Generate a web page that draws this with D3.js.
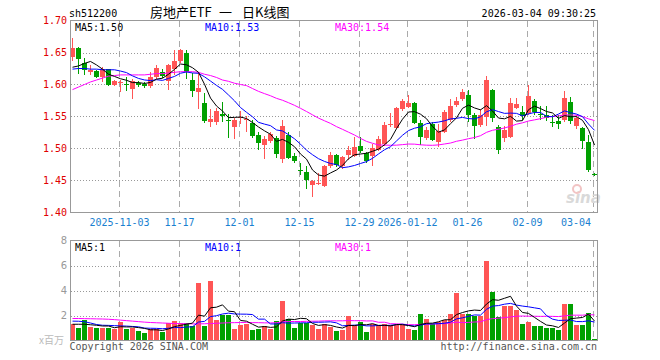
<!DOCTYPE html>
<html><head><meta charset="utf-8">
<script src="https://cdn.jsdelivr.net/npm/d3@7"></script>
<style>body{margin:0;background:#fff}svg{display:block}</style>
</head><body><svg id="c" width="660" height="360"></svg>
<script>
const dates = ["2025-10-22","2025-10-23","2025-10-24","2025-10-27","2025-10-28","2025-10-29","2025-10-30","2025-10-31",
"2025-11-03","2025-11-04","2025-11-05","2025-11-06","2025-11-07","2025-11-10","2025-11-11","2025-11-12","2025-11-13","2025-11-14",
"2025-11-17","2025-11-18","2025-11-19","2025-11-20","2025-11-21","2025-11-24","2025-11-25","2025-11-26","2025-11-27","2025-11-28",
"2025-12-01","2025-12-02","2025-12-03","2025-12-04","2025-12-05","2025-12-08","2025-12-09","2025-12-10","2025-12-11","2025-12-12",
"2025-12-15","2025-12-16","2025-12-17","2025-12-18","2025-12-19","2025-12-22","2025-12-23","2025-12-24","2025-12-25","2025-12-26",
"2025-12-29","2025-12-30","2025-12-31","2026-01-05","2026-01-06","2026-01-07","2026-01-08","2026-01-09",
"2026-01-12","2026-01-13","2026-01-14","2026-01-15","2026-01-16","2026-01-19","2026-01-20","2026-01-21","2026-01-22","2026-01-23",
"2026-01-26","2026-01-27","2026-01-28","2026-01-29","2026-01-30","2026-02-02","2026-02-03","2026-02-04","2026-02-05","2026-02-06",
"2026-02-09","2026-02-10","2026-02-11","2026-02-12","2026-02-13","2026-02-24","2026-02-25","2026-02-26","2026-02-27",
"2026-03-02","2026-03-03","2026-03-04"];
const open = [1.643,1.657,1.634,1.619,1.621,1.611,1.624,1.600,1.602,1.601,
1.593,1.602,1.601,1.597,1.612,1.620,1.606,1.624,1.636,1.650,
1.607,1.588,1.571,1.541,1.541,1.554,1.544,1.534,1.548,1.545,
1.540,1.521,1.506,1.511,1.517,1.483,1.521,1.488,1.466,1.463,
1.443,1.445,1.442,1.472,1.490,1.473,1.490,1.489,1.504,1.493,
1.488,1.497,1.507,1.536,1.532,1.561,1.565,1.571,1.540,1.516,
1.539,1.510,1.526,1.544,1.568,1.577,1.583,1.552,1.536,1.550,
1.592,1.534,1.517,1.518,1.563,1.557,1.556,1.575,1.554,1.553,
1.542,1.543,1.544,1.573,1.535,1.532,1.510,1.460];
const close = [1.657,1.640,1.622,1.622,1.612,1.624,1.600,1.605,1.604,1.600,
1.606,1.600,1.598,1.612,1.626,1.613,1.631,1.636,1.654,1.620,
1.590,1.595,1.543,1.546,1.558,1.551,1.543,1.545,1.549,1.546,
1.520,1.508,1.515,1.522,1.491,1.535,1.485,1.481,1.465,1.451,
1.450,1.446,1.472,1.490,1.474,1.486,1.498,1.503,1.496,1.480,
1.501,1.515,1.537,1.538,1.564,1.575,1.571,1.540,1.518,1.529,
1.514,1.527,1.557,1.567,1.574,1.589,1.552,1.535,1.552,1.607,
1.547,1.497,1.529,1.571,1.570,1.551,1.582,1.557,1.552,1.547,
1.540,1.539,1.579,1.543,1.548,1.511,1.466,1.459];
const high = [1.672,1.659,1.641,1.630,1.622,1.627,1.625,1.607,1.607,1.611,
1.609,1.606,1.604,1.619,1.631,1.624,1.632,1.654,1.655,1.654,
1.618,1.618,1.586,1.562,1.564,1.573,1.554,1.547,1.559,1.551,
1.545,1.526,1.520,1.526,1.519,1.545,1.526,1.493,1.477,1.472,
1.451,1.461,1.475,1.494,1.492,1.489,1.504,1.518,1.518,1.495,
1.507,1.520,1.542,1.555,1.565,1.577,1.583,1.573,1.545,1.534,
1.541,1.538,1.560,1.578,1.581,1.593,1.591,1.555,1.562,1.614,
1.593,1.536,1.535,1.579,1.579,1.567,1.600,1.578,1.566,1.566,
1.552,1.552,1.590,1.580,1.552,1.533,1.521,1.462];
const low = [1.636,1.617,1.615,1.615,1.610,1.604,1.598,1.598,1.589,1.590,
1.578,1.596,1.594,1.594,1.608,1.610,1.592,1.615,1.634,1.609,
1.581,1.562,1.540,1.533,1.537,1.542,1.516,1.515,1.539,1.526,
1.516,1.498,1.484,1.508,1.485,1.478,1.483,1.477,1.458,1.437,
1.424,1.443,1.440,1.469,1.471,1.468,1.482,1.486,1.493,1.477,
1.473,1.496,1.504,1.534,1.530,1.558,1.563,1.538,1.505,1.514,
1.511,1.502,1.524,1.541,1.565,1.575,1.542,1.515,1.533,1.535,
1.541,1.491,1.510,1.516,1.561,1.545,1.553,1.553,1.545,1.543,
1.534,1.530,1.541,1.538,1.531,1.499,1.464,1.457];
const volume = [1.31,1.04,1.65,1.09,1.01,1.01,1.04,0.96,1.49,0.93,
1.01,0.77,0.64,0.93,0.93,0.72,1.41,1.57,1.41,1.41,
1.15,4.61,1.15,4.77,1.65,2.08,2.08,0.93,1.28,1.36,
0.85,0.93,1.17,0.93,1.57,3.17,1.71,1.01,1.41,1.41,
1.28,0.93,1.31,1.12,0.77,0.85,1.97,1.25,1.52,0.69,
1.31,1.25,1.33,1.25,1.25,1.25,0.93,0.85,2.13,1.73,
1.31,1.47,1.65,2.13,3.81,2.13,2.13,1.97,1.97,6.37,
3.89,1.89,2.77,2.77,2.45,1.33,1.52,1.17,1.17,1.01,
1.01,0.85,2.93,2.93,1.25,1.25,2.21,0.13];
// moving-average values before enough in-view history exists
const ma5Lead = [1.627,1.629,1.633,1.636];
const ma10Lead = [1.624,1.625,1.625,1.624,1.624,1.623,1.623,1.623,1.621];
const ma30Lead = [1.592,1.596,1.600,1.604,1.607,1.610,1.613,1.614,1.615,1.615,
1.615,1.615,1.615,1.616,1.617,1.617,1.618,1.619,1.620,1.620,
1.620,1.619,1.616,1.614,1.611,1.607,1.605,1.602,1.600];
const vma5Lead = [1.30,1.30,1.30,1.26];
const vma10Lead = [1.55,1.54,1.50,1.40,1.28,1.22,1.21,1.19,1.17];
const vma30Lead = [1.76,1.76,1.75,1.74,1.73,1.72,1.70,1.67,1.63,1.59,
1.55,1.51,1.47,1.44,1.42,1.40,1.38,1.36,1.35,1.34,
1.33,1.33,1.34,1.36,1.38,1.40,1.42,1.43,1.44];
const priceTicks = [1.40,1.45,1.50,1.55,1.60,1.65,1.70];
const volTicks = [2,4,6,8];
const dateTicks = ["2025-11-03","2025-11-17","2025-12-01","2025-12-15","2025-12-29","2026-01-12","2026-01-26","2026-02-09","2026-03-04"];
const dateTickLabels = ["2025-11-03","11-17","12-01","12-15","12-29","2026-01-12","01-26","02-09","03-04"];
const priceLegend = ["MA5:1.50","MA10:1.53","MA30:1.54"];
const volLegend = ["MA5:1","MA10:1","MA30:1"];
const maColors = ["#000000","#0000ff","#ff00ff"];
const titleParts = ["房地产ETF", "一", "日K线图"];

const svg = d3.select("#c");
const MONO = "'DejaVu Sans Mono', 'Liberation Mono', monospace";
const CJK = "'Noto Sans CJK SC', sans-serif";
const UP = "#ff5555", DOWN = "#00a000";

const x = d3.scaleBand().domain(dates).range([69.5, 597.5]);
const cx = d => x(d) + x.bandwidth() / 2;
const y = d3.scaleLinear().domain([1.40, 1.70]).range([212.5, 20.5]);
const yv = d3.scaleLinear().domain([0, 8]).range([340.5, 240.5]);

function movingAvg(arr, n, lead) {
  return arr.map((v, i) => i < n - 1 ? lead[i] : d3.mean(arr.slice(i - n + 1, i + 1)));
}

// header
svg.append("text").attr("x", 69).attr("y", 16.5).attr("font-family", MONO).attr("font-size", 10).attr("fill", "#000").text("sh512200");
const titleX = [150, 219, 242];
titleParts.forEach((t, k) => svg.append("text").attr("x", titleX[k]).attr("y", 17).attr("font-family", CJK).attr("font-size", 13).attr("fill", "#000").text(t));
svg.append("text").attr("x", 596).attr("y", 16.5).attr("text-anchor", "end").attr("font-family", MONO).attr("font-size", 10).attr("fill", "#000").text("2026-03-04 09:30:25");

// grids
const grid = svg.append("g");
const gridX = d => Math.round(cx(d) - 2) + 0.5;
dateTicks.forEach(d => {
  grid.append("line").attr("x1", gridX(d)).attr("x2", gridX(d)).attr("y1", 21).attr("y2", 212)
    .attr("stroke", "#aaa").attr("stroke-dasharray", "6,4");
  grid.append("line").attr("x1", gridX(d)).attr("x2", gridX(d)).attr("y1", 241).attr("y2", 340)
    .attr("stroke", "#aaa").attr("stroke-dasharray", "6,4");
});
priceTicks.slice(1, -1).forEach(p => {
  grid.append("line").attr("x1", 71).attr("x2", 597).attr("y1", Math.round(y(p)) + 0.5).attr("y2", Math.round(y(p)) + 0.5)
    .attr("stroke", "#999").attr("stroke-dasharray", "1,2");
});
volTicks.slice(0, -1).forEach(v => {
  grid.append("line").attr("x1", 71).attr("x2", 597).attr("y1", Math.round(yv(v)) + 0.5).attr("y2", Math.round(yv(v)) + 0.5)
    .attr("stroke", "#999").attr("stroke-dasharray", "1,2");
});

// watermark
const wm = svg.append("g");
wm.append("text").attr("x", 566).attr("y", 203).attr("font-family", "'DejaVu Sans', sans-serif").attr("font-style", "italic").attr("font-weight", "bold").attr("font-size", 15).attr("fill", "#d9d9d9").text("sina");
wm.append("circle").attr("cx", 577).attr("cy", 189).attr("r", 4).attr("fill", "none").attr("stroke", "#f2c4c4").attr("stroke-width", 2);

// candles and volume bars
const idx = d3.range(dates.length);
const cg = svg.append("g").attr("shape-rendering", "crispEdges");
idx.forEach(i => {
  const col = close[i] >= open[i] ? UP : DOWN;
  const xc = Math.floor(cx(dates[i])) + 0.5;
  cg.append("line").attr("x1", xc).attr("x2", xc).attr("y1", y(high[i])).attr("y2", y(low[i])).attr("stroke", col);
  const top = y(Math.max(open[i], close[i])), bot = y(Math.min(open[i], close[i]));
  cg.append("rect").attr("x", xc - 2.5).attr("width", 5).attr("y", top).attr("height", Math.max(1, bot - top)).attr("fill", col);
  cg.append("rect").attr("x", xc - 2.5).attr("width", 5).attr("y", yv(volume[i])).attr("height", yv(0) - yv(volume[i])).attr("fill", col);
});

// MA lines
svg.append("clipPath").attr("id", "cp").append("rect").attr("x", 71).attr("y", 21).attr("width", 526).attr("height", 191);
const pMA = [movingAvg(close, 5, ma5Lead), movingAvg(close, 10, ma10Lead), movingAvg(close, 30, ma30Lead)];
const vMA = [movingAvg(volume, 5, vma5Lead), movingAvg(volume, 10, vma10Lead), movingAvg(volume, 30, vma30Lead)];
[2, 1, 0].forEach(k => {
  svg.append("path").datum(idx).attr("clip-path", "url(#cp)")
    .attr("d", d3.line().x(i => cx(dates[i])).y(i => y(pMA[k][i])))
    .attr("fill", "none").attr("stroke", maColors[k]).attr("stroke-width", 1);
  svg.append("path").datum(idx)
    .attr("d", d3.line().x(i => cx(dates[i])).y(i => yv(vMA[k][i])))
    .attr("fill", "none").attr("stroke", maColors[k]).attr("stroke-width", 1);
});

// frames
svg.append("rect").attr("x", 70.5).attr("y", 20.5).attr("width", 527).attr("height", 192).attr("fill", "none").attr("stroke", "#999");
svg.append("rect").attr("x", 70.5).attr("y", 240.5).attr("width", 527).attr("height", 100).attr("fill", "none").attr("stroke", "#999");

// price axis labels
priceTicks.forEach(p => {
  svg.append("text").attr("x", 67).attr("y", y(p) + 3.5).attr("text-anchor", "end").attr("font-family", MONO).attr("font-size", 10).attr("fill", "#e00000").text(p.toFixed(2));
});
// date labels
dateTicks.forEach((d, k) => {
  const last = k === dateTicks.length - 1;
  svg.append("text").attr("x", last ? 591 : gridX(d)).attr("y", 225.5).attr("text-anchor", last ? "end" : "middle")
    .attr("font-family", MONO).attr("font-size", 10).attr("fill", "#1a7fd0").text(dateTickLabels[k]);
});
// volume axis labels
volTicks.forEach(v => {
  svg.append("text").attr("x", 67).attr("y", yv(v) + 3.5).attr("text-anchor", "end").attr("font-family", "'DejaVu Sans', sans-serif").attr("font-size", 10).attr("fill", "#999").text(v);
});
svg.append("text").attr("x", 64).attr("y", 344).attr("text-anchor", "end").attr("font-family", CJK).attr("font-size", 10).attr("fill", "#bbb").text("x百万");

// legends
const legX = [75, 205, 335];
priceLegend.forEach((t, k) => svg.append("text").attr("x", legX[k]).attr("y", 30.5).attr("font-family", MONO).attr("font-size", 10).attr("fill", maColors[k]).text(t));
volLegend.forEach((t, k) => svg.append("text").attr("x", legX[k]).attr("y", 250.5).attr("font-family", MONO).attr("font-size", 10).attr("fill", maColors[k]).text(t));

// footer
svg.append("text").attr("x", 69.5).attr("y", 349.5).attr("font-family", MONO).attr("font-size", 10).attr("fill", "#555").text("Copyright 2026 SINA.COM");
svg.append("text").attr("x", 597).attr("y", 349.5).attr("text-anchor", "end").attr("font-family", MONO).attr("font-size", 10).attr("fill", "#555").text("http://finance.sina.com.cn");
</script></body></html>
